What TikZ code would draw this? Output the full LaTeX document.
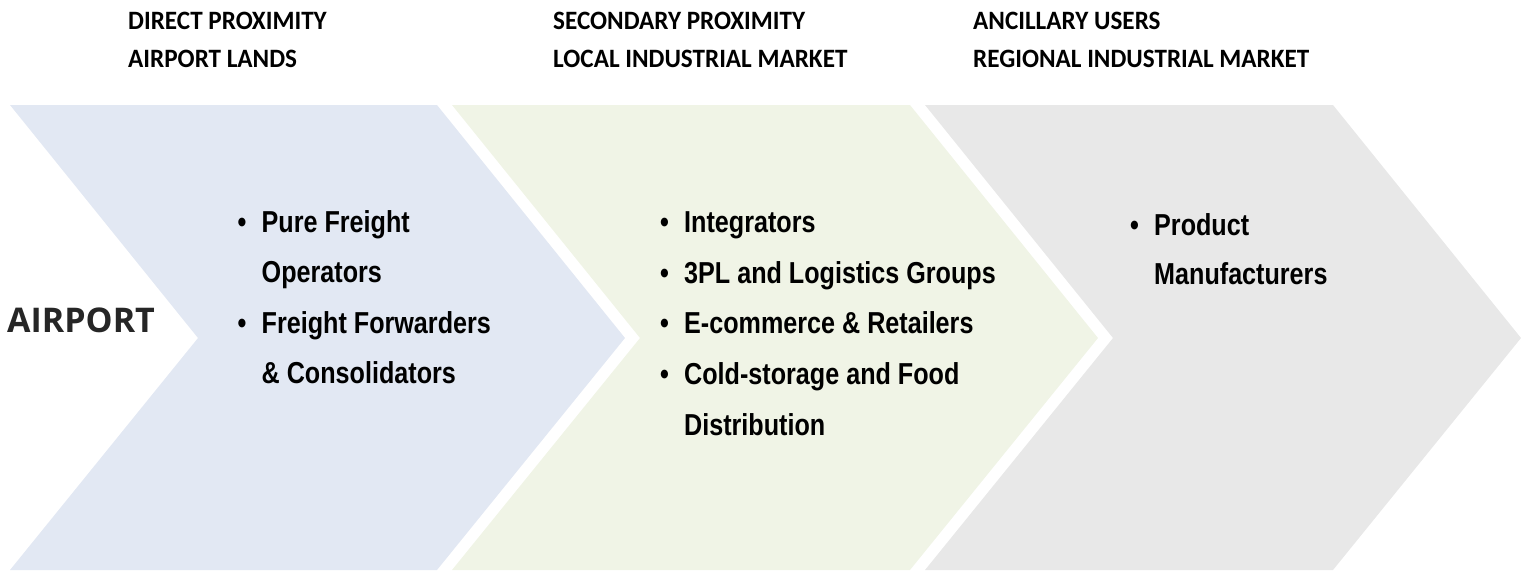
\documentclass[tikz,border=0pt]{standalone}
\usepackage{fontspec}
\setmainfont{Liberation Sans}
\newfontfamily\hdrfont[FakeStretch=0.95]{Carlito}
\newfontfamily\listfont[FakeStretch=0.83]{Liberation Sans}
\newfontfamily\apfont{Open Sans}
\definecolor{cblue}{RGB}{226,232,243}
\definecolor{cgreen}{RGB}{240,244,230}
\definecolor{cgray}{RGB}{232,232,232}
\definecolor{aptext}{RGB}{38,38,38}
\newcommand\bl{\makebox[24pt][l]{\textbullet}}
\newcommand\nb{\hspace*{24pt}}
\begin{document}
\begin{tikzpicture}[x=1pt,y=-1pt,
  hdr/.style={anchor=base west,inner sep=0pt,font=\hdrfont\bfseries\fontsize{26.5}{27}\selectfont},
  lst/.style={anchor=base west,inner sep=0pt,font=\listfont\bfseries\fontsize{30.3}{36}\selectfont},
  ap/.style={anchor=base west,inner sep=0pt,text=aptext,font=\apfont\bfseries\fontsize{34}{34}\selectfont}]
\useasboundingbox (0,0) rectangle (1525,571);
% chevrons
\fill[cblue] (10,105) -- (437,105) -- (625,338) -- (437,570) -- (10,570) -- (198,338) -- cycle;
\fill[cgreen] (452,105) -- (910,105) -- (1098,338) -- (910,570) -- (452,570) -- (640,338) -- cycle;
\fill[cgray] (925,105) -- (1333,105) -- (1521,338) -- (1333,570) -- (925,570) -- (1113,338) -- cycle;
% headers
\node[hdr] (h1a) at (128,29.3) {DIRECT PROXIMITY};
\node[hdr] (h1b) at (128,67.7) {AIRPORT LANDS};
\node[hdr] (h2a) at (553,29.3) {SECONDARY PROXIMITY};
\node[hdr] (h2b) at (553,67.7) {LOCAL INDUSTRIAL MARKET};
\node[hdr] (h3a) at (973,29.3) {ANCILLARY USERS};
\node[hdr] (h3b) at (973,67.7) {REGIONAL INDUSTRIAL MARKET};
% airport
\node[ap] (airport) at (7,332) {AIRPORT};
% list 1
\node[lst] (a1) at (237.5,232.7) {\bl Pure Freight};
\node[lst] (a2) at (237.5,282) {\nb Operators};
\node[lst] (a3) at (237.5,333) {\bl Freight Forwarders};
\node[lst] (a4) at (237.5,383) {\nb \& Consolidators};
% list 2
\node[lst] (b1) at (660,232.7) {\bl Integrators};
\node[lst] (b2) at (660,283) {\bl 3PL and Logistics Groups};
\node[lst] (b3) at (660,333) {\bl E-commerce \& Retailers};
\node[lst] (b4) at (660,384) {\bl Cold-storage and Food};
\node[lst] (b5) at (660,435) {\nb Distribution};
% list 3
\node[lst] (c1) at (1130,235) {\bl Product};
\node[lst] (c2) at (1130,284) {\nb Manufacturers};
\end{tikzpicture}
\end{document}
